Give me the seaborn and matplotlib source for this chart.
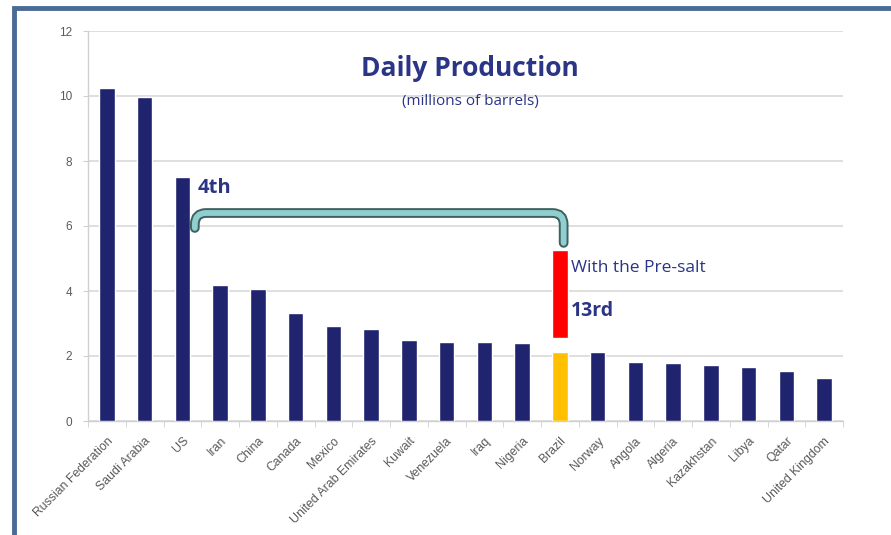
import matplotlib
matplotlib.use("Agg")
import matplotlib.pyplot as plt
from matplotlib.path import Path
from matplotlib.patches import PathPatch, Rectangle
import seaborn as sns
import pandas as pd

# Daily oil production by country, millions of barrels
countries = ["Russian Federation", "Saudi Arabia", "US", "Iran", "China", "Canada",
             "Mexico", "United Arab Emirates", "Kuwait", "Venezuela", "Iraq", "Nigeria",
             "Brazil", "Norway", "Angola", "Algeria", "Kazakhstan", "Libya", "Qatar",
             "United Kingdom"]
production = [10.25, 9.97, 7.5, 4.2, 4.06, 3.32, 2.92, 2.83, 2.49, 2.43, 2.43, 2.4,
              2.12, 2.13, 1.82, 1.79, 1.72, 1.65, 1.55, 1.33]
highlight = "Brazil"
presalt_range = [2.55, 5.27]   # projected range with the Pre-salt fields
bracket_levels = [5.94, 6.4, 5.48]  # left end, top span, right end

NAVY = "#20246e"
GOLD = "#ffc000"
TEXT_NAVY = "#2b3585"
LABEL_FONT = ["Open Sans", "DejaVu Sans"]

df = pd.DataFrame({"country": countries, "production": production})
palette = {c: (GOLD if c == highlight else NAVY) for c in countries}

sns.set_style("white")
plt.rcParams["font.family"] = ["Liberation Sans", "DejaVu Sans"]

fig = plt.figure(figsize=(8.91, 5.35), dpi=100)
ax = fig.add_axes([88 / 891, 1 - 421 / 535, (843 - 88) / 891, (421 - 31) / 535])

sns.barplot(data=df, x="country", y="production", hue="country", palette=palette,
            legend=False, width=0.41, saturation=1, ax=ax, zorder=3)

# Floating Pre-salt segment above Brazil
bi = countries.index(highlight)
ax.bar(bi, presalt_range[1] - presalt_range[0], bottom=presalt_range[0], width=0.41,
       color="#ff0000", zorder=3)

ax.set_ylim(0, 12)
ax.set_xlim(-0.5, len(countries) - 0.5)
ax.set_yticks(range(0, 13, 2))
ax.yaxis.grid(True, color="#d9d9d9", linewidth=1.2, zorder=0)
ax.set_xlabel("")
ax.set_ylabel("")
for s in ["top", "right"]:
    ax.spines[s].set_visible(False)
for s in ["left", "bottom"]:
    ax.spines[s].set_color("#d0d0d0")
    ax.spines[s].set_linewidth(1.0)

ax.tick_params(axis="y", labelsize=8.5, labelcolor="#595959", length=3.5, color="#d0d0d0",
               left=True, pad=8)
ax.set_xticks(range(len(countries)))
ax.set_xticklabels(countries, rotation=45, ha="right", rotation_mode="anchor",
                   fontsize=8.8, color="#595959")
ax.set_xticks([i + 0.5 for i in range(-1, len(countries))], minor=True)
ax.tick_params(axis="x", which="major", length=0, pad=10)
ax.tick_params(axis="x", which="minor", length=4, color="#d0d0d0", bottom=True)

# Titles
fig.text(470 / 891, 1 - 68 / 535, "Daily Production", ha="center", va="center",
         fontsize=19, fontweight="bold", color=TEXT_NAVY, family=LABEL_FONT)
fig.text(470 / 891, 1 - 101 / 535, "(millions of barrels)", ha="center", va="center",
         fontsize=11, color=TEXT_NAVY, family=LABEL_FONT)

# Annotations
us = countries.index("US")
ax.text(us + 0.4, production[us] - 0.02, "4th", ha="left", va="top", fontsize=14.5,
        fontweight="bold", color=TEXT_NAVY, family=LABEL_FONT)
ax.text(bi + 0.3, 4.7, "With the Pre-salt", ha="left", va="center", fontsize=12.5,
        color=TEXT_NAVY, family=LABEL_FONT)
ax.text(bi + 0.3, 3.4, "13rd", ha="left", va="center", fontsize=14, fontweight="bold",
        color=TEXT_NAVY, family=LABEL_FONT)

# Bracket linking 4th place with Brazil's projected position
x0, x1 = us + 0.33, bi + 0.1
yl, yt, yr = bracket_levels
rx, ry = 0.3, 0.35
verts = [(x0, yl), (x0, yt - ry), (x0, yt), (x0 + rx, yt),
         (x1 - rx, yt), (x1, yt), (x1, yt - ry), (x1, yr)]
codes = [Path.MOVETO, Path.LINETO, Path.CURVE3, Path.CURVE3,
         Path.LINETO, Path.CURVE3, Path.CURVE3, Path.LINETO]
bracket = Path(verts, codes)
ax.add_patch(PathPatch(bracket, fill=False, edgecolor="#3f6060", linewidth=7,
                       capstyle="round", joinstyle="round", zorder=4))
ax.add_patch(PathPatch(bracket, fill=False, edgecolor="#8fcfcf", linewidth=4.2,
                       capstyle="round", joinstyle="round", zorder=5))

# Outer frame
fig.patches.append(Rectangle((14.5 / 891, -0.2), 1.0, 1 - 8 / 535 + 0.2,
                             transform=fig.transFigure, fill=False,
                             edgecolor="#4a6b96", linewidth=3.5, zorder=10))

fig.savefig("out.png", dpi=100)
